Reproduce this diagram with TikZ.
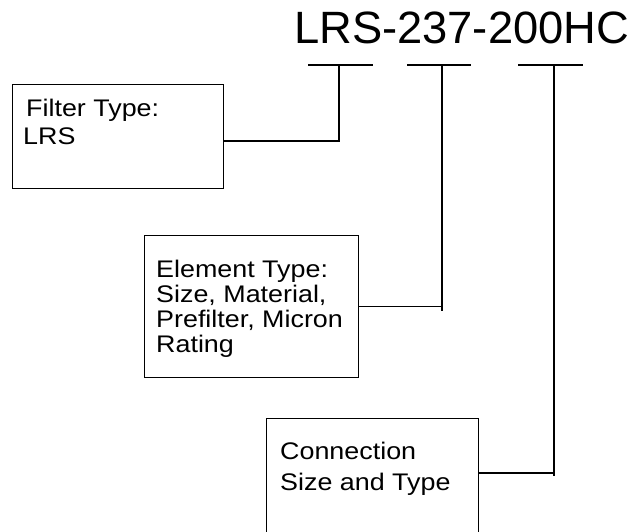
\documentclass[tikz,border=0pt]{standalone}
\usepackage{fontspec}
\setmainfont{Liberation Sans}
\newfontfamily\lblfont[FakeStretch=1.12]{Liberation Sans}
\begin{document}
\begin{tikzpicture}[x=1pt,y=1pt,
  box/.style={draw, line width=1.4pt, inner sep=0pt, anchor=north west},
  lbl/.style={anchor=base west, inner sep=0pt, font=\lblfont\fontsize{24}{25}\selectfont},
  conn/.style={line width=1.4pt},
  bar/.style={line width=1.4pt}]
\useasboundingbox (0,0) rectangle (630,-531);
\clip (0,0) rectangle (630,-531);
% title
\node[anchor=base west, inner sep=0pt, font=\fontsize{45.3}{50}\selectfont] (title) at (294,-43) {LRS-237-200HC};
% bars under the code groups
\coordinate (l1) at (308,-65); \coordinate (r1) at (373,-65); \coordinate (t1) at (339,-65);
\coordinate (l2) at (407,-65); \coordinate (r2) at (471,-65); \coordinate (t2) at (442,-65);
\coordinate (l3) at (518,-65); \coordinate (r3) at (583,-65); \coordinate (t3) at (554,-65);
\draw[bar] (l1) -- (r1);
\draw[bar] (l2) -- (r2);
\draw[bar] (l3) -- (r3);
% boxes
\node[box, minimum width=211, minimum height=104] (b1) at (12,-84) {};
\node[box, minimum width=214, minimum height=142] (b2) at (144,-235) {};
\node[box, minimum width=212, minimum height=130] (b3) at (266,-418) {};
% texts
\node[lbl, font=\lblfont\fontsize{24}{28}\selectfont] (x1) at (23,-116) {\begin{tabular}[t]{@{}l@{}}\hspace{3pt}Filter Type:\\LRS\end{tabular}};
\node[lbl] (x2) at (156,-277) {\begin{tabular}[t]{@{}l@{}}Element Type:\\Size, Material,\\Prefilter, Micron\\Rating\end{tabular}};
\node[lbl, font=\lblfont\fontsize{24}{31}\selectfont] (x3) at (280,-459) {\begin{tabular}[t]{@{}l@{}}Connection\\Size and Type\end{tabular}};
% connectors
\draw[conn] (b1.east |- 0,-141) -| (t1);
\draw[conn] (t2) -- ++(0,-246);
\draw[conn] (b2.east) -- (b2.east -| t2);
\draw[conn] (t3) -- ++(0,-411);
\draw[conn] (b3.north east |- 0,-473) -- (t3 |- 0,-473);
\end{tikzpicture}
\end{document}
